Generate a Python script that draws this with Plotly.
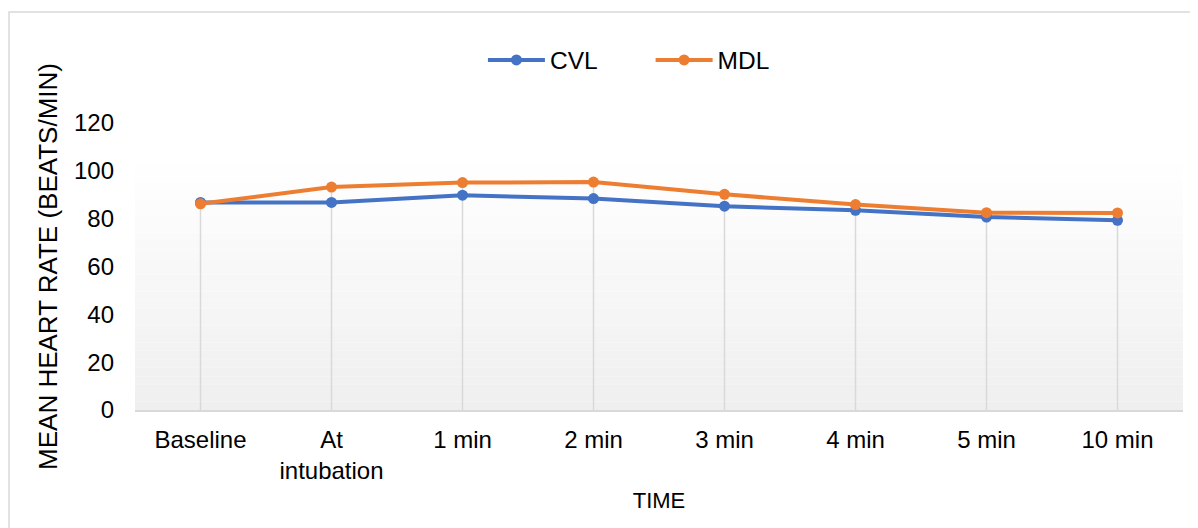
import plotly.graph_objects as go

categories = ["Baseline", "At<br>intubation", "1 min", "2 min", "3 min", "4 min", "5 min", "10 min"]
cvl = [86.8, 86.8, 89.8, 88.4, 85.2, 83.5, 80.7, 79.3]
mdl = [86.2, 93.2, 95.1, 95.3, 90.2, 85.9, 82.5, 82.4]

fig = go.Figure()

# drop lines from the higher point down to the axis
dx, dy = [], []
for c, a, b in zip(categories, cvl, mdl):
    dx += [c, c, None]
    dy += [max(a, b), 0, None]
fig.add_trace(go.Scatter(x=dx, y=dy, mode="lines", line=dict(color="#d9d9d9", width=1.5),
                         showlegend=False, hoverinfo="skip"))

fig.add_trace(go.Scatter(x=categories, y=cvl, name="CVL", mode="lines+markers", legend="legend",
                         line=dict(color="#4472c4", width=4), marker=dict(size=11, color="#4472c4")))
fig.add_trace(go.Scatter(x=categories, y=mdl, name="MDL", mode="lines+markers", legend="legend2",
                         line=dict(color="#ed7d31", width=4), marker=dict(size=11, color="#ed7d31")))

# gradient background (white at top to light gray at bottom)
n = 30
top, bot = 106.0, 0.0
for i in range(n):
    y0 = bot + (top - bot) * i / n
    y1 = bot + (top - bot) * (i + 1) / n
    t = i / (n - 1)
    v = int(round(0xef + (0xff - 0xef) * t))
    col = f"rgb({v},{v},{v})"
    fig.add_shape(type="rect", xref="paper", yref="y", x0=0, x1=1, y0=y0, y1=y1,
                  fillcolor=col, line=dict(width=0), layer="below")

# outer chart frame
fig.add_shape(type="rect", xref="paper", yref="paper", x0=-0.1202, x1=1.02, y0=-0.5, y1=1.3868,
              line=dict(color="#d9d9d9", width=1.5), fillcolor="rgba(0,0,0,0)", layer="below")

font = "Liberation Sans, Arial, sans-serif"
leg = dict(orientation="h", xanchor="left", y=1.2195, yanchor="middle",
           font=dict(size=24.5), itemwidth=57, bgcolor="rgba(0,0,0,0)")
fig.update_layout(
    width=1190, height=520,
    margin=dict(l=127, r=15, t=115, b=118),
    paper_bgcolor="white", plot_bgcolor="white",
    font=dict(family=font, size=22, color="#000000"),
    showlegend=True,
    legend=dict(leg, x=0.332),
    legend2=dict(leg, x=0.492),
    xaxis=dict(type="category", range=[-0.5, 7.5], showgrid=False, showline=True, automargin=False,
               linecolor="#d9d9d9", linewidth=2, ticks="", tickfont=dict(size=24), ticklabelstandoff=7,
               title=dict(text="TIME", font=dict(size=22), standoff=10), fixedrange=True),
    yaxis=dict(range=[0, 120], dtick=20, showgrid=False, zeroline=False, showline=False, automargin=False,
               ticks="", tickfont=dict(size=24), ticklabelstandoff=20,
               title=dict(text="MEAN HEART RATE (BEATS/MIN)", font=dict(size=26), standoff=8)),
)

fig.write_html("out.html")
